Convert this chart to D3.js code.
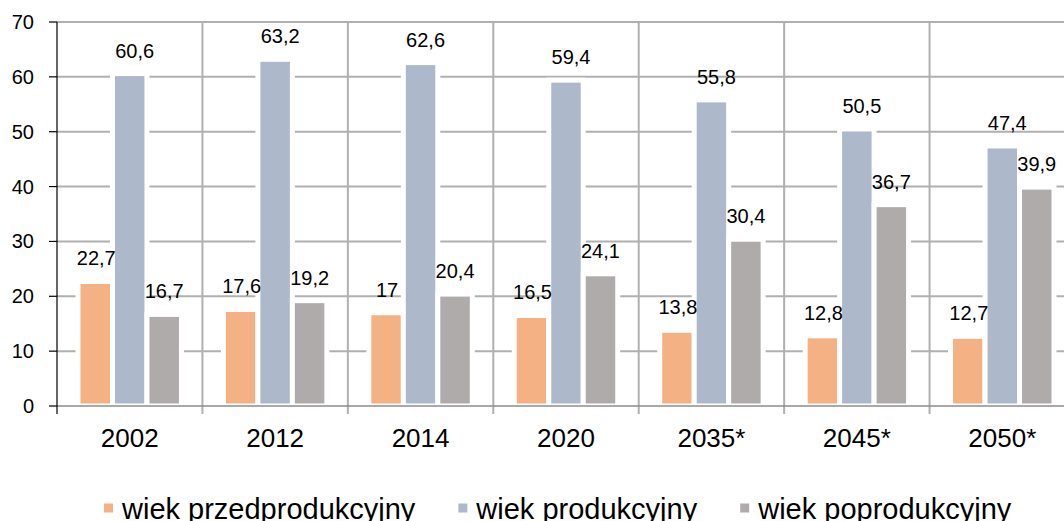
<!doctype html>
<html>

<head>
    <meta charset="UTF-8">
    <title>wiek ludnosci</title>
    <script src="https://d3js.org/d3.v7.min.js"></script>
    <style>
        body {
            margin: 0;
            background: #fff;
        }
        svg {
            display: block;
            font-family: "Liberation Sans", Arial, sans-serif;
        }
    </style>
</head>

<body>
    <svg width="1064" height="521"></svg>
    <script>
        // dane z wykresu
        var categories = ["2002", "2012", "2014", "2020", "2035*", "2045*", "2050*"];
        var seriesNames = ["wiek przedprodukcyjny", "wiek produkcyjny", "wiek poprodukcyjny"];
        var przedprodukcyjny = [22.7, 17.6, 17, 16.5, 13.8, 12.8, 12.7];
        var produkcyjny = [60.6, 63.2, 62.6, 59.4, 55.8, 50.5, 47.4];
        var poprodukcyjny = [16.7, 19.2, 20.4, 24.1, 30.4, 36.7, 39.9];
        var yTicks = [0, 10, 20, 30, 40, 50, 60, 70];

        var colors = ["#f4b183", "#adb9ca", "#afabab"];
        var labelDx = [1, 5, 0];
        var series = [przedprodukcyjny, produkcyjny, poprodukcyjny];

        var svg = d3.select("svg");
        var plotLeft = 57, plotRight = 1075, plotTop = 22, plotBottom = 406;

        var x = d3.scaleBand().domain(categories).range([plotLeft, plotRight]);
        var xInner = d3.scaleBand().domain(d3.range(3)).range([21, x.bandwidth() - 21]);
        var y = d3.scaleLinear().domain([0, 70]).range([plotBottom, plotTop]);

        // horizontal grid
        svg.append("g").selectAll("line").data(yTicks.filter(function (d) { return d > 0; }))
            .enter().append("line")
            .attr("x1", plotLeft).attr("x2", 1064)
            .attr("y1", function (d) { return y(d); })
            .attr("y2", function (d) { return y(d); })
            .attr("stroke", "#b0b0b0").attr("stroke-width", 2);

        // vertical separators
        svg.append("g").selectAll("line").data(categories.slice(1))
            .enter().append("line")
            .attr("x1", function (d) { return x(d); })
            .attr("x2", function (d) { return x(d); })
            .attr("y1", plotTop).attr("y2", plotBottom + 8)
            .attr("stroke", "#b0b0b0").attr("stroke-width", 2);

        // bars
        series.forEach(function (vals, s) {
            svg.append("g").selectAll("rect").data(vals).enter().append("rect")
                .attr("x", function (d, i) { return x(categories[i]) + xInner(s); })
                .attr("y", function (d) { return y(d); })
                .attr("width", xInner.bandwidth())
                .attr("height", function (d) { return y(0) - y(d); })
                .attr("fill", colors[s])
                .attr("stroke", "#fff").attr("stroke-width", 5);
        });

        // value labels (after all bars so nothing covers them)
        series.forEach(function (vals, s) {
            svg.append("g").selectAll("text").data(vals).enter().append("text")
                .attr("x", function (d, i) { return x(categories[i]) + xInner(s) + xInner.bandwidth() / 2 + labelDx[s]; })
                .attr("y", function (d) { return y(d) - 16; })
                .attr("text-anchor", "middle")
                .attr("font-size", 20)
                .attr("fill", "#000")
                .text(function (d) { return String(d).replace(".", ","); });
        });

        // x axis line
        svg.append("line")
            .attr("x1", plotLeft).attr("x2", 1064)
            .attr("y1", plotBottom).attr("y2", plotBottom)
            .attr("stroke", "#8c8c8c").attr("stroke-width", 1.5);

        // y axis
        svg.append("line")
            .attr("x1", plotLeft).attr("x2", plotLeft)
            .attr("y1", plotTop).attr("y2", plotBottom + 8)
            .attr("stroke", "#000").attr("stroke-width", 1.2);
        svg.append("g").selectAll("line").data(yTicks).enter().append("line")
            .attr("x1", plotLeft - 8).attr("x2", plotLeft)
            .attr("y1", function (d) { return y(d); })
            .attr("y2", function (d) { return y(d); })
            .attr("stroke", "#000").attr("stroke-width", 1.2);
        svg.append("g").selectAll("text").data(yTicks).enter().append("text")
            .attr("x", 34)
            .attr("y", function (d) { return y(d) + 7; })
            .attr("text-anchor", "end")
            .attr("font-size", 20)
            .text(function (d) { return d; });

        // x labels
        svg.append("g").selectAll("text").data(categories).enter().append("text")
            .attr("x", function (d) { return x(d) + x.bandwidth() / 2; })
            .attr("y", plotBottom + 41)
            .attr("text-anchor", "middle")
            .attr("font-size", 26)
            .text(function (d) { return d; });

        // legend
        var lx = 104;
        seriesNames.forEach(function (name, s) {
            svg.append("rect")
                .attr("x", lx).attr("y", 503.5)
                .attr("width", 9).attr("height", 9)
                .attr("fill", colors[s]);
            var t = svg.append("text")
                .attr("x", lx + 18).attr("y", 519)
                .attr("font-size", 29)
                .text(name);
            lx = lx + 18 + t.node().getComputedTextLength() + 43;
        });
    </script>
</body>

</html>
